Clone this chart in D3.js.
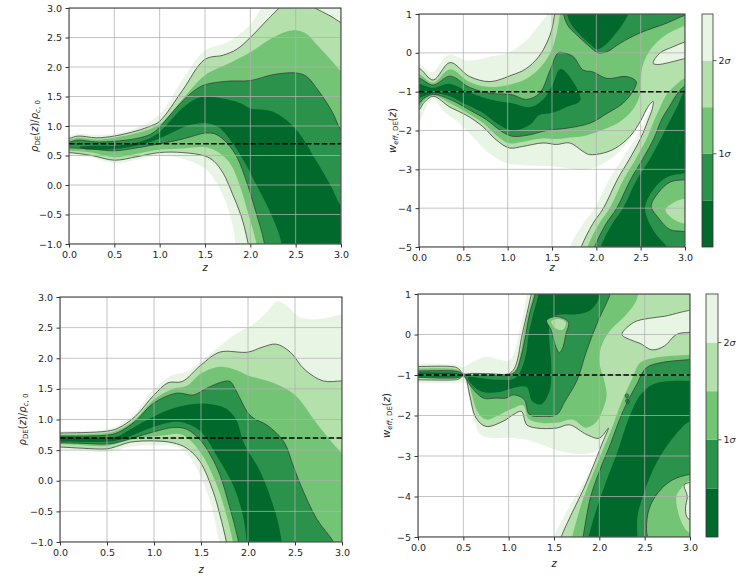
<!DOCTYPE html>
<html><head><meta charset="utf-8">
<script src="https://cdn.jsdelivr.net/npm/d3@7"></script>
<style>body{margin:0;background:#fff}svg{display:block}text{font-family:"DejaVu Sans",sans-serif}</style>
</head><body>
<svg id="c" width="746" height="577"></svg>
<script>
// ---------- axis / tick data ----------
const zTicks = [0, 0.5, 1, 1.5, 2, 2.5, 3];
const rhoTicks = [-1, -0.5, 0, 0.5, 1, 1.5, 2, 2.5, 3];
const wTicks = [-5, -4, -3, -2, -1, 0, 1];
const rhoRef = 0.7;
const wRef = -1;
const sigmaBounds = [0, 0.5, 1, 1.5, 2, 2.5];
const sigmaTicks = [1, 2];

// ---------- contour regions (z, value); level 1 = innermost (0.5σ) ... 5 = 2.5σ ----------
// top-left: rho_DE
const tlL5 = [[-0.1,0.84],[0,0.84],[0.1,0.87],[0.3,0.85],[0.5,0.87],[0.75,0.97],[1.0,1.2],[1.25,1.78],[1.5,2.28],[1.75,2.42],[2.0,2.72],[2.1,2.95],[2.18,3.2],[3.2,3.2],[3.2,-1.2],[1.84,-1.2],[1.82,-0.8],[1.72,-0.25],[1.6,0.1],[1.5,0.28],[1.25,0.45],[1.0,0.5],[0.75,0.43],[0.5,0.37],[0.25,0.46],[0,0.5],[-0.1,0.5]];
const tlL4 = [[-0.1,0.79],[0,0.79],[0.1,0.83],[0.3,0.8],[0.5,0.83],[0.75,0.92],[0.9,1.0],[1.0,1.08],[1.25,1.6],[1.5,2.13],[1.7,2.2],[1.85,2.3],[2.0,2.5],[2.2,2.82],[2.35,3.05],[2.5,3.2],[2.65,3.05],[2.75,2.97],[2.9,2.85],[3.0,2.75],[3.2,2.6],[3.2,-1.2],[2.0,-1.2],[1.97,-0.95],[1.9,-0.53],[1.8,-0.14],[1.7,0.2],[1.6,0.4],[1.5,0.49],[1.25,0.55],[1.0,0.55],[0.75,0.48],[0.5,0.42],[0.25,0.5],[0,0.55],[-0.1,0.55]];
const tlL3 = [[-0.1,0.76],[0,0.76],[0.1,0.8],[0.3,0.77],[0.5,0.8],[0.75,0.88],[1.0,1.03],[1.25,1.45],[1.5,1.86],[1.75,2.05],[2.0,2.25],[2.25,2.5],[2.45,2.62],[2.6,2.58],[2.75,2.35],[2.9,2.1],[3.0,1.93],[3.2,1.75],[3.2,-1.2],[2.08,-1.2],[2.06,-0.95],[1.97,-0.45],[1.87,0.05],[1.77,0.38],[1.62,0.58],[1.5,0.64],[1.25,0.62],[1.0,0.6],[0.75,0.53],[0.5,0.47],[0.25,0.55],[0,0.58],[-0.1,0.58]];
const tlL2 = [[-0.1,0.73],[0,0.73],[0.1,0.76],[0.3,0.73],[0.5,0.74],[0.75,0.79],[0.9,0.86],[1.0,0.98],[1.1,1.16],[1.25,1.42],[1.4,1.62],[1.5,1.7],[1.75,1.76],[2.0,1.77],[2.25,1.87],[2.5,1.9],[2.62,1.84],[2.75,1.6],[2.9,1.25],[3.0,0.93],[3.2,0.6],[3.2,-1.2],[2.17,-1.2],[2.15,-0.95],[2.06,-0.45],[1.96,0.05],[1.86,0.45],[1.75,0.7],[1.62,0.86],[1.5,0.88],[1.35,0.82],[1.2,0.76],[1.0,0.7],[0.75,0.63],[0.5,0.58],[0.25,0.61],[0,0.63],[-0.1,0.63]];
const tlL1 = [[0.12,0.645],[0.3,0.665],[0.5,0.665],[0.75,0.72],[0.9,0.8],[1.0,0.9],[1.1,1.06],[1.25,1.3],[1.4,1.46],[1.5,1.5],[1.75,1.45],[1.9,1.38],[2.0,1.3],[2.25,1.24],[2.5,0.95],[2.75,0.35],[2.9,-0.05],[3.0,-0.35],[3.2,-0.6],[3.2,-1.2],[2.36,-1.2],[2.33,-0.9],[2.2,-0.4],[2.05,0.05],[1.95,0.35],[1.8,0.72],[1.65,0.98],[1.5,1.05],[1.3,1.0],[1.1,0.86],[1.0,0.79],[0.75,0.67],[0.5,0.61],[0.3,0.6],[0.15,0.615]];

// bottom-left: rho_DE
const blL5 = [[-0.1,0.81],[0,0.81],[0.5,0.84],[0.65,0.93],[0.8,1.12],[1.0,1.5],[1.2,1.73],[1.35,1.78],[1.5,1.95],[1.63,2.11],[1.85,2.38],[2.05,2.55],[2.2,2.75],[2.31,2.93],[2.42,2.85],[2.55,2.67],[2.75,2.64],[3.0,2.72],[3.2,2.75],[3.2,-1.2],[1.72,-1.2],[1.68,-0.9],[1.6,-0.35],[1.5,0.05],[1.4,0.35],[1.25,0.55],[1.0,0.58],[0.75,0.56],[0.5,0.47],[0.25,0.5],[0,0.52],[-0.1,0.52]];
const blL4 = [[-0.1,0.78],[0,0.78],[0.5,0.81],[0.62,0.86],[0.8,1.05],[1.0,1.4],[1.15,1.6],[1.3,1.62],[1.5,1.89],[1.7,2.1],[2.0,2.1],[2.15,2.18],[2.3,2.23],[2.45,2.1],[2.6,1.82],[2.8,1.63],[3.0,1.63],[3.2,1.63],[3.2,-1.2],[1.79,-1.2],[1.77,-1.0],[1.7,-0.55],[1.63,-0.18],[1.49,0.31],[1.35,0.53],[1.2,0.62],[1.0,0.65],[0.75,0.63],[0.6,0.56],[0.5,0.52],[0.25,0.53],[0,0.55],[-0.1,0.55]];
const blL3 = [[-0.1,0.755],[0,0.755],[0.5,0.78],[0.62,0.83],[0.8,1.0],[1.0,1.33],[1.2,1.5],[1.35,1.55],[1.5,1.75],[1.7,1.86],[1.85,1.82],[2.0,1.72],[2.3,1.58],[2.5,1.4],[2.75,0.9],[3.0,0.45],[3.2,0.2],[3.2,-1.2],[1.86,-1.2],[1.84,-1.0],[1.75,-0.45],[1.65,0.0],[1.5,0.45],[1.3,0.75],[1.1,0.74],[0.9,0.71],[0.7,0.65],[0.5,0.57],[0.25,0.58],[0,0.6],[-0.1,0.6]];
const blL2 = [[-0.1,0.73],[0,0.73],[0.5,0.745],[0.62,0.79],[0.8,0.97],[0.99,1.26],[1.24,1.43],[1.42,1.4],[1.56,1.51],[1.74,1.62],[1.81,1.62],[1.88,1.45],[1.99,1.13],[2.06,1.02],[2.2,0.91],[2.38,0.64],[2.48,0.25],[2.56,-0.07],[2.73,-0.62],[2.91,-1.0],[2.96,-1.2],[1.92,-1.2],[1.9,-1.0],[1.8,-0.4],[1.7,0.1],[1.6,0.42],[1.5,0.65],[1.35,0.84],[1.21,0.87],[1.0,0.8],[0.8,0.71],[0.62,0.63],[0.5,0.6],[0.25,0.61],[0,0.62],[-0.1,0.62]];
const blL1 = [[-0.1,0.71],[0,0.71],[0.5,0.705],[0.62,0.73],[0.75,0.84],[0.9,0.97],[1.0,1.05],[1.2,1.18],[1.5,1.26],[1.7,1.22],[1.8,1.14],[1.88,0.98],[1.96,0.6],[2.13,0.15],[2.31,-0.62],[2.38,-1.2],[2.0,-1.2],[1.95,-0.6],[1.85,-0.1],[1.67,0.4],[1.5,0.8],[1.35,0.93],[1.2,0.96],[1.0,0.88],[0.8,0.76],[0.62,0.66],[0.5,0.635],[0,0.64],[-0.1,0.64]];

// top-right: w_eff
const trL5 = [[-0.1,-0.3],[0,-0.3],[0.15,-0.5],[0.33,-0.05],[0.55,-0.2],[0.8,-0.1],[1.0,0.0],[1.2,0.3],[1.35,0.7],[1.45,1.0],[1.5,1.2],[3.2,1.2],[3.2,-5.2],[1.68,-5.2],[1.7,-5.0],[1.85,-4.4],[1.98,-4.0],[2.16,-3.2],[2.3,-2.7],[2.44,-2.2],[2.55,-1.7],[2.6,-1.45],[2.62,-1.3],[2.56,-1.5],[2.45,-1.95],[2.3,-2.45],[2.12,-2.8],[1.9,-3.0],[1.5,-2.92],[1.2,-2.9],[1.0,-2.85],[0.8,-2.6],[0.6,-2.15],[0.45,-1.8],[0.3,-1.55],[0.15,-1.2],[0.05,-1.55],[0,-1.8],[-0.1,-1.9]];
const trL4 = [[-0.1,-0.42],[0,-0.4],[0.16,-0.7],[0.35,-0.25],[0.57,-0.61],[0.8,-0.74],[1.05,-0.57],[1.2,-0.42],[1.35,-0.1],[1.45,0.3],[1.5,0.62],[1.53,1.0],[1.55,1.2],[3.2,1.2],[3.2,-5.2],[1.81,-5.2],[1.83,-5.0],[1.96,-4.4],[2.08,-4.0],[2.24,-3.25],[2.37,-2.75],[2.5,-2.2],[2.59,-1.7],[2.63,-1.45],[2.64,-1.25],[2.58,-1.4],[2.5,-1.75],[2.38,-2.15],[2.22,-2.45],[2.08,-2.58],[1.92,-2.62],[1.85,-2.54],[1.7,-2.32],[1.55,-2.36],[1.4,-2.32],[1.17,-2.41],[1.02,-2.45],[0.87,-2.24],[0.72,-1.9],[0.53,-1.6],[0.35,-1.4],[0.16,-1.12],[0.05,-1.3],[0,-1.47],[-0.1,-1.5]];
const trL3a = [[-0.1,-0.55],[0,-0.55],[0.16,-0.77],[0.35,-0.42],[0.57,-0.75],[0.8,-0.88],[1.05,-0.8],[1.2,-0.68],[1.35,-0.42],[1.47,-0.05],[1.53,0.3],[1.57,0.7],[1.6,1.2],[3.2,1.2],[3.2,0.8],[3.0,0.7],[2.85,0.55],[2.72,0.35],[2.6,0.05],[2.52,-0.35],[2.5,-0.75],[2.49,-1.1],[2.4,-1.5],[2.25,-1.8],[2.05,-2.0],[1.85,-2.15],[1.7,-2.18],[1.55,-2.22],[1.4,-2.2],[1.2,-2.28],[1.02,-2.33],[0.87,-2.12],[0.72,-1.8],[0.53,-1.53],[0.35,-1.3],[0.16,-1.1],[0.05,-1.25],[0,-1.4],[-0.1,-1.42]];
const trL3b = [[1.88,-5.2],[1.9,-5.0],[2.03,-4.4],[2.15,-4.0],[2.31,-3.25],[2.44,-2.75],[2.57,-2.2],[2.66,-1.7],[2.72,-1.4],[2.8,-1.05],[2.9,-0.82],[3.0,-0.65],[3.2,-0.5],[3.2,-5.2]];
const trL2a = [[-0.1,-0.65],[0,-0.65],[0.16,-0.83],[0.35,-0.6],[0.57,-0.89],[0.8,-1.04],[1.05,-1.08],[1.21,-1.2],[1.36,-1.04],[1.48,-0.44],[1.57,0.0],[1.63,0.0],[1.74,-0.1],[1.85,-0.44],[1.96,-0.49],[2.12,-0.66],[2.34,-0.61],[2.45,-0.74],[2.42,-0.96],[2.3,-1.3],[2.12,-1.56],[1.93,-1.81],[1.67,-1.94],[1.5,-1.98],[1.4,-2.02],[1.25,-2.11],[1.06,-2.15],[0.95,-2.05],[0.76,-1.72],[0.57,-1.47],[0.35,-1.2],[0.16,-1.07],[0.05,-1.18],[0,-1.3],[-0.1,-1.32]];
const trL2b = [[1.62,1.2],[1.63,1.0],[1.68,0.7],[1.78,0.46],[1.93,0.15],[2.02,0.0],[2.12,0.03],[2.27,0.25],[2.49,0.51],[2.8,0.77],[3.0,0.97],[3.2,1.1],[3.2,1.2]];
const trL1a = [[-0.1,-0.8],[0,-0.8],[0.16,-0.9],[0.35,-0.8],[0.57,-1.02],[0.8,-1.2],[1.05,-1.3],[1.25,-1.4],[1.4,-1.2],[1.5,-0.85],[1.59,-0.42],[1.67,-0.53],[1.82,-1.22],[1.67,-1.39],[1.5,-1.55],[1.36,-1.6],[1.25,-1.85],[1.06,-2.0],[0.9,-1.85],[0.7,-1.52],[0.5,-1.3],[0.35,-1.12],[0.16,-1.04],[0,-1.16],[-0.1,-1.18]];
const trL1b = [[1.66,1.2],[1.67,1.0],[1.72,0.72],[1.82,0.45],[1.93,0.22],[2.01,0.09],[2.1,0.2],[2.2,0.45],[2.3,0.75],[2.36,1.0],[2.38,1.2]];
const trL1c = [[2.04,-5.2],[2.05,-5.0],[2.18,-4.4],[2.3,-4.0],[2.46,-3.25],[2.6,-2.75],[2.73,-2.2],[2.83,-1.75],[2.92,-1.35],[3.0,-1.0],[3.2,-0.9],[3.2,-5.2]];
const trL2c = [[1.96,-5.2],[1.98,-5.0],[2.11,-4.4],[2.23,-4.0],[2.39,-3.25],[2.52,-2.75],[2.65,-2.2],[2.74,-1.7],[2.82,-1.4],[2.9,-1.1],[3.0,-0.85],[3.2,-0.7],[3.2,-5.2]];
const trHole2 = [[2.55,-4.0],[2.65,-3.5],[2.8,-3.2],[3.0,-3.1],[3.2,-3.05],[3.2,-5.2],[2.85,-5.2],[2.78,-4.95],[2.65,-4.6]];
const trHole3 = [[2.62,-3.95],[2.7,-3.6],[2.83,-3.33],[3.0,-3.27],[3.2,-3.25],[3.2,-4.65],[3.0,-4.6],[2.83,-4.55],[2.7,-4.25]];
const trHole4 = [[2.78,-4.05],[2.88,-3.85],[3.0,-3.75],[3.2,-3.72],[3.2,-4.45],[3.0,-4.4],[2.88,-4.3]];
const trIsland = [[2.64,-0.27],[2.72,0.0],[2.86,0.15],[3.0,0.28],[3.2,0.38],[3.2,-0.12],[3.0,-0.15],[2.94,-0.18],[2.8,-0.26],[2.7,-0.3]];

// bottom-right: w_eff
const brL5 = [[-0.1,-0.72],[0,-0.72],[0.4,-0.74],[0.5,-0.8],[0.6,-0.68],[0.75,-0.55],[0.9,-0.62],[1.0,-0.65],[1.06,-0.45],[1.12,0.1],[1.17,0.6],[1.2,1.0],[1.22,1.2],[3.2,1.2],[3.2,-5.2],[1.48,-5.2],[1.5,-5.0],[1.62,-4.45],[1.76,-3.9],[1.88,-3.45],[1.98,-3.05],[2.03,-2.75],[1.95,-2.9],[1.8,-2.95],[1.6,-2.9],[1.4,-2.75],[1.2,-2.6],[1.0,-2.55],[0.8,-2.55],[0.68,-2.45],[0.62,-2.1],[0.56,-1.55],[0.52,-1.2],[0.45,-1.2],[0,-1.2],[-0.1,-1.2]];
const brL4 = [[-0.1,-0.79],[0,-0.79],[0.4,-0.8],[0.45,-0.85],[0.5,-0.97],[0.6,-0.96],[0.8,-0.97],[1.0,-0.97],[1.06,-0.85],[1.1,-0.6],[1.14,-0.1],[1.2,0.5],[1.24,0.9],[1.27,1.2],[3.2,1.2],[3.2,-5.2],[1.56,-5.2],[1.58,-5.0],[1.7,-4.4],[1.83,-3.8],[1.95,-3.15],[2.04,-2.64],[2.1,-2.31],[2.0,-2.56],[1.86,-2.47],[1.67,-2.23],[1.53,-2.31],[1.31,-2.31],[1.2,-2.23],[1.14,-1.9],[1.05,-1.98],[0.94,-2.14],[0.75,-2.27],[0.64,-2.06],[0.57,-1.5],[0.53,-1.1],[0.5,-1.03],[0.45,-1.1],[0.4,-1.12],[0,-1.12],[-0.1,-1.12]];
const brL3a = [[-0.1,-0.84],[0,-0.84],[0.4,-0.85],[0.46,-0.9],[0.5,-0.985],[0.7,-0.99],[1.0,-0.99],[1.08,-0.85],[1.13,-0.45],[1.17,0.1],[1.22,0.6],[1.26,0.9],[1.29,1.2],[2.45,1.2],[2.4,0.8],[2.28,0.45],[2.12,0.1],[2.02,-0.3],[2.0,-0.7],[2.05,-1.1],[2.08,-1.5],[2.03,-1.9],[1.95,-2.2],[1.85,-2.3],[1.7,-2.1],[1.53,-2.18],[1.35,-2.18],[1.22,-2.08],[1.16,-1.75],[1.05,-1.82],[0.9,-1.98],[0.75,-2.1],[0.66,-1.92],[0.59,-1.45],[0.54,-1.08],[0.5,-1.015],[0.45,-1.08],[0,-1.08],[-0.1,-1.08]];
const brL3b = [[1.68,-5.2],[1.7,-5.0],[1.8,-4.2],[1.9,-3.6],[2.02,-2.95],[2.14,-2.3],[2.24,-1.7],[2.36,-1.1],[2.45,-0.7],[2.6,-0.58],[3.0,-0.5],[3.2,-0.48],[3.2,-5.2]];
const brL2a = [[-0.1,-0.9],[0,-0.9],[0.4,-0.9],[0.46,-0.93],[0.5,-0.99],[0.75,-1.0],[1.0,-1.0],[1.08,-0.9],[1.13,-0.6],[1.18,-0.1],[1.23,0.5],[1.28,0.9],[1.31,1.2],[2.14,1.2],[2.12,1.0],[1.97,0.25],[1.86,-0.4],[1.75,-1.15],[1.62,-1.65],[1.53,-1.98],[1.38,-2.02],[1.23,-1.98],[1.17,-1.6],[1.05,-1.49],[0.97,-1.57],[0.86,-1.57],[0.72,-1.57],[0.57,-1.24],[0.52,-1.04],[0.5,-1.01],[0.45,-1.06],[0,-1.06],[-0.1,-1.06]];
const brL2b = [[1.8,-5.2],[1.82,-5.0],[1.9,-4.04],[2.0,-3.38],[2.12,-2.72],[2.26,-1.9],[2.41,-1.24],[2.52,-0.82],[2.67,-0.7],[3.0,-0.62],[3.2,-0.6],[3.2,-5.2]];
const brL1a = [[-0.1,-0.94],[0,-0.94],[0.4,-0.95],[0.46,-0.98],[0.46,-1.02],[0.4,-1.04],[0,-1.04],[-0.1,-1.04]];
const brL1m = [[0.55,-1.06],[0.7,-1.08],[0.9,-1.12],[1.05,-1.1],[1.12,-0.95],[1.19,-0.5],[1.22,0.0],[1.27,0.5],[1.32,0.9],[1.34,1.2],[2.02,1.2],[2.0,0.9],[1.9,0.6],[1.75,0.5],[1.6,0.5],[1.5,0.45],[1.45,0.2],[1.45,-0.2],[1.47,-0.8],[1.45,-1.4],[1.36,-1.72],[1.26,-1.65],[1.2,-1.3],[1.08,-1.3],[0.9,-1.42],[0.72,-1.42],[0.6,-1.25]];
const brL1b = [[1.86,-5.2],[1.88,-5.0],[1.97,-4.3],[2.08,-3.6],[2.2,-2.9],[2.32,-2.1],[2.45,-1.5],[2.6,-1.22],[2.8,-1.15],[3.0,-1.15],[3.2,-1.15],[3.2,-2.2],[3.0,-2.15],[2.85,-2.45],[2.7,-2.9],[2.58,-3.4],[2.48,-4.0],[2.42,-4.5],[2.42,-5.0],[2.42,-5.2]];
const brHole3 = [[2.55,-5.2],[2.52,-4.8],[2.55,-4.3],[2.65,-3.9],[2.8,-3.6],[3.0,-3.45],[3.2,-3.4],[3.2,-5.2]];
const brHole4 = [[2.85,-4.0],[2.9,-3.8],[3.0,-3.6],[3.2,-3.55],[3.2,-4.8],[3.0,-4.9],[2.9,-4.6]];
const brHole5 = [[2.94,-3.7],[2.97,-4.0],[2.95,-4.3],[2.98,-4.55],[3.2,-4.6],[3.2,-3.65]];
const brPocket3 = [[1.42,0.35],[1.47,0.1],[1.52,-0.3],[1.56,-0.45],[1.6,-0.3],[1.63,0.0],[1.66,0.3],[1.58,0.42],[1.5,0.44]];
const brPocket4 = [[1.47,0.32],[1.52,0.15],[1.6,0.12],[1.63,0.3],[1.55,0.38]];
const brLoop1 = [[2.285,-1.5],[2.305,-1.46],[2.325,-1.52],[2.305,-1.58]];
const brLoop2 = [[2.29,-1.63],[2.31,-1.59],[2.33,-1.66],[2.31,-1.72]];
const brIsland = [[2.25,0.0],[2.38,0.3],[2.55,0.4],[2.72,0.45],[2.9,0.55],[3.2,0.7],[3.2,0.0],[3.0,0.05],[2.85,0.0],[2.72,-0.28],[2.58,-0.38],[2.45,-0.22],[2.33,-0.12]];

// painting order per panel: [level, region, isHole]
const tlPatches = [[5,tlL5,0],[4,tlL4,0],[3,tlL3,0],[2,tlL2,0],[1,tlL1,0]];
const blPatches = [[5,blL5,0],[4,blL4,0],[3,blL3,0],[2,blL2,0],[1,blL1,0]];
const trPatches = [[5,trL5,0],[4,trL4,0],[3,trL3a,0],[3,trL3b,0],[2,trL2a,0],[2,trL2b,0],[2,trL2c,0],[1,trL1a,0],[1,trL1b,0],[1,trL1c,0],[2,trHole2,1],[3,trHole3,1],[4,trHole4,1],[5,trIsland,1]];
const brPatches = [[5,brL5,0],[4,brL4,0],[3,brL3a,0],[3,brL3b,0],[2,brL2a,0],[2,brL2b,0],[1,brL1a,0],[1,brL1m,0],[1,brL1b,0],[3,brHole3,1],[4,brHole4,1],[5,brHole5,1],[3,brPocket3,1],[4,brPocket4,1],[2,brLoop1,0],[2,brLoop2,0],[5,brIsland,1]];

// ---------- styles ----------
const levelColors = ["#00692b", "#2a924a", "#74c476", "#b4e0ab", "#e8f5e4"];
const ink = "#262626";
const tickFont = 9.5;
const svg = d3.select("#c");

function ringPath(pts, x, y, yd) {
  const eps = 1e-9;
  const inside = p => p[0] >= -eps && p[0] <= 3 + eps && p[1] >= yd[0] - eps && p[1] <= yd[1] + eps;
  const P = pts.map(p => [x(p[0]), y(p[1])]);
  const ins = pts.map(inside);
  const s = ins.indexOf(false);
  if (s < 0) return d3.line().curve(d3.curveCatmullRomClosed.alpha(0.5))(P);
  const n = P.length;
  const order = d3.range(n + 1).map(i => (s + i) % n);
  const cr = d3.line().curve(d3.curveCatmullRom.alpha(0.5));
  let d = "M" + P[s][0] + "," + P[s][1];
  let i = 1;
  while (i <= n) {
    const k = order[i];
    if (!ins[k]) { d += "L" + P[k][0] + "," + P[k][1]; i++; }
    else {
      const run = [P[order[i - 1]]];
      while (i <= n && ins[order[i]]) { run.push(P[order[i]]); i++; }
      run.push(P[order[i]]); i++;
      d += cr(run).replace(/^M/, "L");
    }
  }
  return d + "Z";
}

function rhoLabel(g, x, y) {
  const t = g.append("text").attr("transform", `translate(${x},${y}) rotate(-90)`)
    .attr("text-anchor", "middle").attr("font-size", 10).attr("fill", ink);
  t.append("tspan").attr("font-style", "italic").text("ρ");
  t.append("tspan").attr("font-size", 7).attr("dy", 2).text("DE");
  t.append("tspan").attr("dy", -2).text("(");
  t.append("tspan").attr("font-style", "italic").text("z");
  t.append("tspan").text(")/");
  t.append("tspan").attr("font-style", "italic").text("ρ");
  t.append("tspan").attr("font-size", 7).attr("dy", 2).attr("font-style", "italic").text("c");
  t.append("tspan").attr("font-size", 7).text(", 0");
}
function wLabel(g, x, y) {
  const t = g.append("text").attr("transform", `translate(${x},${y}) rotate(-90)`)
    .attr("text-anchor", "middle").attr("font-size", 10).attr("fill", ink);
  t.append("tspan").attr("font-style", "italic").text("w");
  t.append("tspan").attr("font-size", 7).attr("dy", 2).attr("font-style", "italic").text("eff");
  t.append("tspan").attr("font-size", 7).text(", DE");
  t.append("tspan").attr("dy", -2).text("(");
  t.append("tspan").attr("font-style", "italic").text("z");
  t.append("tspan").text(")");
}

function panel(cfg) {
  const g = svg.append("g");
  const x = d3.scaleLinear().domain([0, 3]).range([cfg.left, cfg.right]);
  const y = d3.scaleLinear().domain(cfg.yDomain).range([cfg.bottom, cfg.top]);
  svg.append("clipPath").attr("id", "clip" + cfg.id).append("rect")
    .attr("x", cfg.left).attr("y", cfg.top).attr("width", cfg.right - cfg.left).attr("height", cfg.bottom - cfg.top);
  const area = g.append("g").attr("clip-path", `url(#clip${cfg.id})`);
  const paths = cfg.patches.map(p => ({ level: p[0], hole: p[2], d: ringPath(p[1], x, y, cfg.yDomain) }));
  paths.forEach(p => area.append("path").attr("d", p.d).attr("fill", levelColors[p.level - 1]).attr("stroke", "none"));
  paths.forEach(p => {
    const b = p.hole ? p.level - 1 : p.level;
    if (b === 2 || b === 4) area.append("path").attr("d", p.d).attr("fill", "none")
      .attr("stroke", "#3a3a3a").attr("stroke-width", 0.85).attr("stroke-opacity", 0.9);
  });
  area.selectAll(".gx").data(zTicks).join("line").attr("x1", d => x(d)).attr("x2", d => x(d))
    .attr("y1", cfg.top).attr("y2", cfg.bottom).attr("stroke", "#b0b0b0").attr("stroke-width", 1).attr("stroke-opacity", 0.75);
  area.selectAll(".gy").data(cfg.yTicks).join("line").attr("y1", d => y(d)).attr("y2", d => y(d))
    .attr("x1", cfg.left).attr("x2", cfg.right).attr("stroke", "#b0b0b0").attr("stroke-width", 1).attr("stroke-opacity", 0.75);
  area.append("line").attr("x1", cfg.left).attr("x2", cfg.right).attr("y1", y(cfg.ref)).attr("y2", y(cfg.ref))
    .attr("stroke", "#000").attr("stroke-width", 1.5).attr("stroke-dasharray", "5.5,2.4");
  g.append("rect").attr("x", cfg.left).attr("y", cfg.top).attr("width", cfg.right - cfg.left)
    .attr("height", cfg.bottom - cfg.top).attr("fill", "none").attr("stroke", "#333").attr("stroke-width", 1);
  const xa = g.append("g").attr("transform", `translate(0,${cfg.bottom})`)
    .call(d3.axisBottom(x).tickValues(zTicks).tickFormat(d3.format(".1f")).tickSize(3.5).tickPadding(3.5));
  const ya = g.append("g").attr("transform", `translate(${cfg.left},0)`)
    .call(d3.axisLeft(y).tickValues(cfg.yTicks).tickFormat(d3.format(cfg.fmt)).tickSize(3.5).tickPadding(3.5));
  [xa, ya].forEach(a => {
    a.select(".domain").remove();
    a.attr("font-size", tickFont).attr("font-family", "DejaVu Sans, sans-serif");
    a.selectAll("line").attr("stroke", "#333");
    a.selectAll("text").attr("fill", ink);
  });
  g.append("text").attr("x", (cfg.left + cfg.right) / 2).attr("y", cfg.xlabY).attr("text-anchor", "middle")
    .attr("font-size", 10).attr("font-style", "italic").attr("fill", ink).text("z");
  cfg.label(g, cfg.ylabX, (cfg.top + cfg.bottom) / 2);
  if (cfg.cbar) {
    const cb = d3.scaleLinear().domain([0, 2.5]).range([cfg.bottom, cfg.top]);
    const c = cfg.cbar;
    for (let i = 0; i < 5; i++) {
      g.append("rect").attr("x", c.left).attr("width", c.right - c.left)
        .attr("y", cb(sigmaBounds[i + 1])).attr("height", cb(sigmaBounds[i]) - cb(sigmaBounds[i + 1]))
        .attr("fill", levelColors[i]);
    }
    g.append("rect").attr("x", c.left).attr("y", cfg.top).attr("width", c.right - c.left)
      .attr("height", cfg.bottom - cfg.top).attr("fill", "none").attr("stroke", "#333").attr("stroke-width", 0.8);
    sigmaTicks.forEach(t => {
      g.append("line").attr("x1", c.right).attr("x2", c.right + 3.5).attr("y1", cb(t)).attr("y2", cb(t))
        .attr("stroke", "#333").attr("stroke-width", 0.8);
      const tx = g.append("text").attr("x", c.right + 5.5).attr("y", cb(t)).attr("dy", "0.35em")
        .attr("font-size", tickFont).attr("fill", ink);
      tx.append("tspan").text(t);
      tx.append("tspan").attr("font-style", "italic").text("σ");
    });
  }
}

panel({ id: "tl", left: 69, right: 341, top: 8, bottom: 244, yDomain: [-1, 3], yTicks: rhoTicks, fmt: ".1f",
  ref: rhoRef, patches: tlPatches, label: rhoLabel, ylabX: 38, xlabY: 271 });
panel({ id: "tr", left: 419, right: 685, top: 14, bottom: 247, yDomain: [-5, 1], yTicks: wTicks, fmt: "d",
  ref: wRef, patches: trPatches, label: wLabel, ylabX: 396, xlabY: 271, cbar: { left: 702, right: 713 } });
panel({ id: "bl", left: 60, right: 342, top: 297, bottom: 542, yDomain: [-1, 3], yTicks: rhoTicks, fmt: ".1f",
  ref: rhoRef, patches: blPatches, label: rhoLabel, ylabX: 26, xlabY: 573 });
panel({ id: "br", left: 418, right: 690, top: 294, bottom: 537, yDomain: [-5, 1], yTicks: wTicks, fmt: "d",
  ref: wRef, patches: brPatches, label: wLabel, ylabX: 390, xlabY: 567, cbar: { left: 706, right: 718 } });
</script>
</body></html>
